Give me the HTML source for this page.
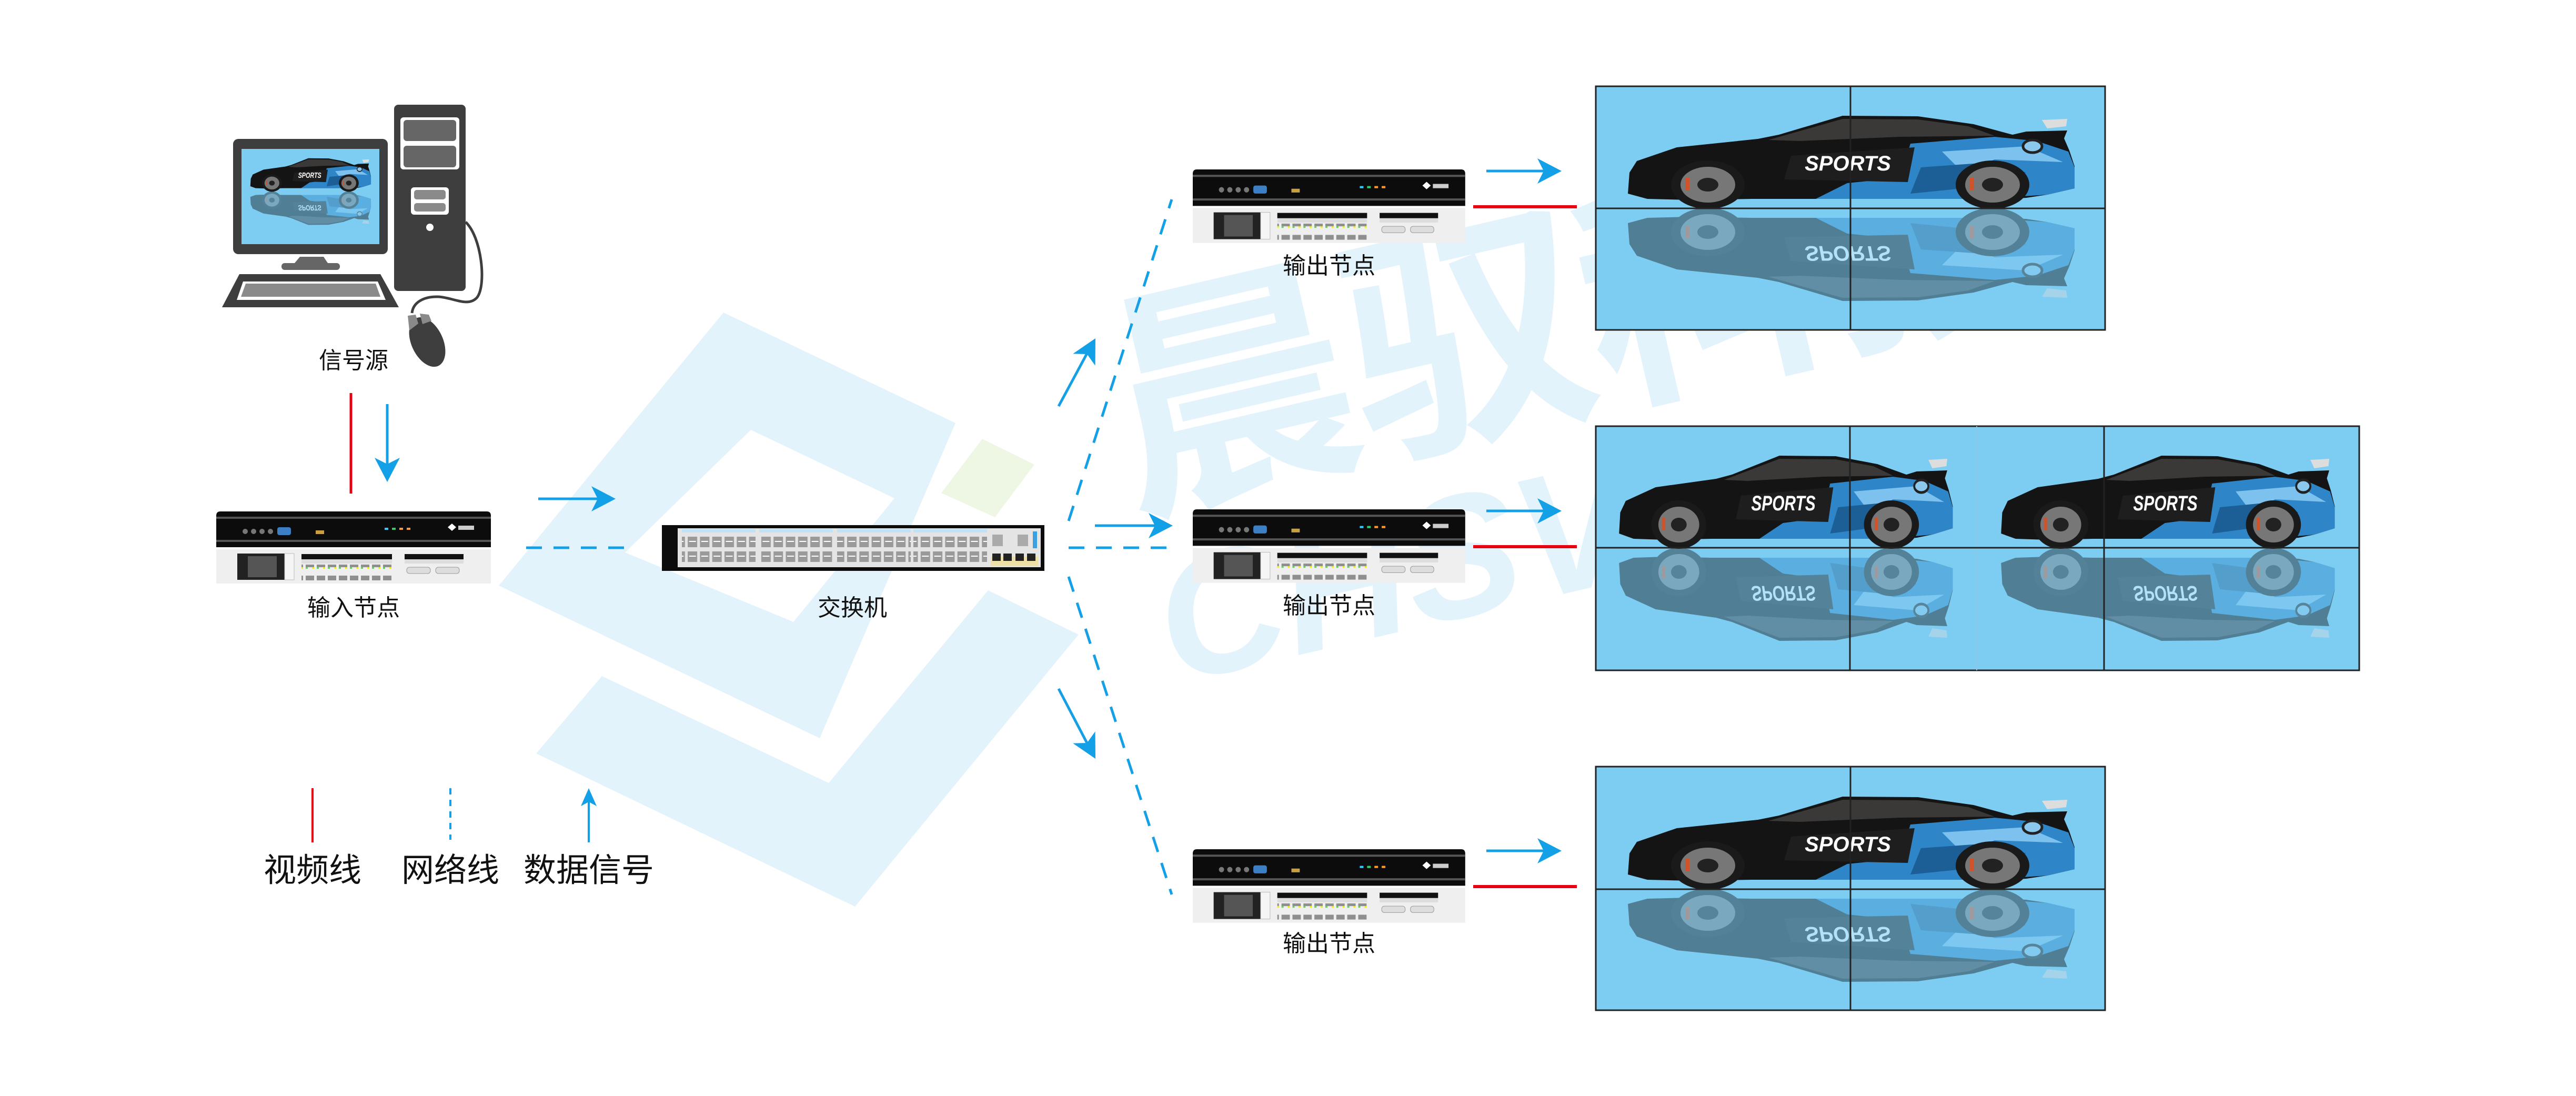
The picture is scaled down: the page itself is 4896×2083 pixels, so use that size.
<!DOCTYPE html>
<html><head><meta charset="utf-8">
<style>
html,body{margin:0;padding:0;background:#fff;}
svg{display:block;}
text{font-family:"Liberation Sans","Noto Sans CJK SC",sans-serif;}
</style></head>
<body>
<svg width="4896" height="2083" viewBox="0 0 4896 2083" xmlns="http://www.w3.org/2000/svg">
<defs>
  <pattern id="ports" x="0" y="0" width="23.3" height="87" patternUnits="userSpaceOnUse">
    <rect x="2.5" y="22" width="18" height="20" fill="#9a9a9a"/>
    <rect x="2.5" y="50" width="18" height="20" fill="#9a9a9a"/>
    <rect x="5" y="30" width="13" height="2" fill="#fff"/>
    <rect x="5" y="58" width="13" height="2" fill="#fff"/>
  </pattern>
  <pattern id="eth" x="0" y="0" width="21" height="30" patternUnits="userSpaceOnUse">
    <rect x="2" y="2" width="16" height="14" fill="#8f8f8f"/>
    <rect x="2" y="16" width="4" height="3" fill="#6c6"/>
    <rect x="14" y="16" width="4" height="3" fill="#ee3"/>
  </pattern>
  <path id="ahR" d="M-46,-24 L0,0 L-46,24 L-34,0 Z" fill="#13a0e6"/>

  <g id="carbody">
    <path d="M3,150 L6,110 L20,88 L96,62 L250,46 L290,38 L411,2 L554,3 L660,18 L734,38 L760,32 L838,30 L832,45 L842,68 L852,98 L852,140 L800,152 L760,158 L720,160 L238,160 L120,162 L40,160 Z" fill="#141414"/>
    <path d="M540,55 L700,42 L780,50 L840,70 L852,100 L852,140 L800,152 L680,160 L360,160 L420,130 L520,120 Z" fill="#2e86c8"/>
    <path d="M600,70 L760,60 L830,90 L700,85 L640,110 Z" fill="#7dc2ee"/>
    <path d="M560,100 L700,90 L760,110 L640,140 L540,150 Z" fill="#1c5e96"/>
    <path d="M270,48 L411,8 L554,9 L650,22 L700,40 L520,42 L330,50 Z" fill="#3b3838"/>
    <path d="M313,78 L548,62 L535,128 L300,123 Z" fill="#1e1e1e"/>
    <text x="421" y="106" font-size="40" font-weight="bold" font-style="italic" fill="#fff" text-anchor="middle">SPORTS</text>
    <path d="M790,10 L838,8 L836,22 L800,26 Z" fill="#ddd"/>
    <ellipse cx="772" cy="60" rx="18" ry="12" fill="#8cc8ee" stroke="#222" stroke-width="5"/>
    <ellipse cx="155" cy="133" rx="70" ry="46" fill="#1a1a1a"/>
    <ellipse cx="155" cy="133" rx="52" ry="34" fill="#777"/>
    <ellipse cx="155" cy="133" rx="20" ry="13" fill="#222"/>
    <ellipse cx="696" cy="133" rx="70" ry="46" fill="#1a1a1a"/>
    <ellipse cx="696" cy="133" rx="52" ry="34" fill="#777"/>
    <ellipse cx="696" cy="133" rx="20" ry="13" fill="#222"/>
    <rect x="112" y="120" width="8" height="24" fill="#d0532a"/>
    <rect x="653" y="120" width="8" height="24" fill="#d0532a"/>
  </g>
  <g id="car">
    <use href="#carbody"/>
    <g opacity="0.42" transform="translate(0,356) scale(1,-1)"><use href="#carbody"/></g>
  </g>

  <g id="dev">
    <path d="M0,8 Q0,0 8,0 L514,0 Q522,0 522,8 L522,68 L0,68 Z" fill="#0c0c0c"/>
    <rect x="0" y="10" width="522" height="4" fill="#555"/>
    <rect x="0" y="54" width="522" height="4" fill="#555"/>
    <circle cx="55" cy="38" r="5" fill="#777"/><circle cx="71" cy="38" r="5" fill="#777"/><circle cx="87" cy="38" r="5" fill="#777"/><circle cx="103" cy="38" r="5" fill="#777"/>
    <rect x="116" y="30" width="26" height="15" rx="4" fill="#3d7fc4"/>
    <rect x="189" y="36" width="16" height="7" fill="#c8a040"/>
    <rect x="320" y="31" width="7" height="4" fill="#3cf"/><rect x="334" y="31" width="7" height="4" fill="#3c6"/><rect x="348" y="31" width="7" height="4" fill="#f93"/><rect x="362" y="31" width="7" height="4" fill="#f93"/>
    <path d="M440,30 l8,-7 l8,7 l-8,7 z" fill="#fff"/><rect x="460" y="27" width="30" height="8" fill="#ccc"/>
    <rect x="0" y="72" width="522" height="65" fill="#efefef"/>
    <rect x="40" y="80" width="100" height="50" fill="#222"/>
    <rect x="60" y="85" width="55" height="40" fill="#555"/>
    <rect x="130" y="80" width="18" height="50" fill="#f5f5f5" stroke="#bbb"/>
    <rect x="162" y="81" width="172" height="10" fill="#111"/>
    <rect x="162" y="91" width="172" height="8" fill="#ddd"/>
    <rect x="162" y="101" width="172" height="30" fill="url(#eth)"/>
    <rect x="358" y="81" width="112" height="10" fill="#111"/>
    <rect x="358" y="91" width="112" height="8" fill="#ddd"/>
    <rect x="362" y="106" width="45" height="12" rx="5" fill="#ddd" stroke="#999"/>
    <rect x="417" y="106" width="45" height="12" rx="5" fill="#ddd" stroke="#999"/>
  </g>

  <g id="sw">
    <rect x="0" y="0" width="727" height="87" fill="#0c0c0c"/>
    <rect x="30" y="6" width="690" height="74" fill="#e4e4e4"/>
    <g fill="#bfe3f6"><rect x="38" y="8" width="140" height="6"/><rect x="185" y="8" width="140" height="6"/><rect x="333" y="8" width="140" height="6"/><rect x="478" y="8" width="140" height="6"/></g>
    <rect x="38" y="0" width="140" height="87" fill="url(#ports)"/>
    <rect x="185" y="0" width="140" height="87" fill="url(#ports)"/>
    <rect x="333" y="0" width="140" height="87" fill="url(#ports)"/>
    <rect x="478" y="0" width="140" height="87" fill="url(#ports)"/>
    <rect x="628" y="18" width="20" height="22" fill="#aaa"/>
    <rect x="676" y="18" width="20" height="22" fill="#aaa"/>
    <rect x="705" y="12" width="8" height="32" fill="#3aa0e0"/>
    <rect x="625" y="60" width="90" height="18" fill="#ecdfa8"/>
    <g fill="#222"><rect x="628" y="54" width="16" height="14"/><rect x="649" y="54" width="16" height="14"/><rect x="672" y="54" width="16" height="14"/><rect x="694" y="54" width="16" height="14"/></g>
  </g>
</defs>

<g fill="#e3f3fc">
  <path fill-rule="evenodd" d="M1375,594 L1816,804 L1558,1403 L948,1113 Z M1427,817 L1700,947 L1508,1182 L1188,1050 Z"/>
  <path d="M1144,1285 L1575,1488 L1878,1122 L2050,1206 L1625,1723 L1019,1432 Z"/>
</g>
<path d="M1867,834 L1966,883 L1891,983 L1789,937 Z" fill="#eef7e4"/>
<g fill="#e3f3fc" font-weight="bold">
  <text x="2150" y="960" font-size="470" transform="rotate(-13 2150 960)" style="letter-spacing:-10px">晨驭科技</text>
  <text x="2230" y="1300" font-size="330" font-style="italic" transform="rotate(-13 2230 1300)">CHSVC</text>
</g>

<g>
  <rect x="443" y="264" width="294" height="219" rx="10" fill="#3e3e3e"/>
  <rect x="459" y="283" width="262" height="181" fill="#7dcdf3"/>
  <g transform="translate(475,300) scale(0.27,0.36)"><use href="#car"/></g>
  <path d="M560,500 L570,488 L615,488 L623,500 Z" fill="#666"/>
  <rect x="535" y="500" width="111" height="13" rx="6" fill="#666"/>
  <path d="M422,584 L455,521 L723,521 L758,584 Z" fill="#3e3e3e"/>
  <path d="M450,570 L462,535 L718,535 L733,570 Z" fill="#fff"/>
  <path d="M458,564 L467,539 L714,539 L723,564 Z" fill="#8a8a8a"/>
  <rect x="749" y="199" width="136" height="354" rx="8" fill="#3e3e3e"/>
  <rect x="761" y="223" width="112" height="99" rx="6" fill="#fff"/>
  <rect x="767" y="228" width="100" height="40" rx="6" fill="#666"/>
  <rect x="767" y="277" width="100" height="41" rx="6" fill="#666"/>
  <rect x="781" y="356" width="72" height="52" rx="6" fill="#fff"/>
  <rect x="787" y="361" width="60" height="18" rx="5" fill="#8a8a8a"/>
  <rect x="787" y="386" width="60" height="16" rx="5" fill="#8a8a8a"/>
  <circle cx="817" cy="432" r="7" fill="#fff"/>
  <path d="M885,422 C915,450 925,540 907,565 C890,585 860,565 833,564 C805,563 785,575 783,595" fill="none" stroke="#3e3e3e" stroke-width="5"/>
  <ellipse cx="812" cy="650" rx="30" ry="50" transform="rotate(-25 812 650)" fill="#3e3e3e"/>
  <path d="M775,600 L790,598 L795,615 L778,628 Z" fill="#8a8a8a"/>
  <path d="M798,596 L815,598 L820,610 L803,616 Z" fill="#8a8a8a"/>
</g>
<text x="672" y="700" font-size="44" text-anchor="middle" fill="#111">信号源</text>

<line x1="667" y1="747" x2="667" y2="938" stroke="#e60012" stroke-width="5"/>
<line x1="736" y1="768" x2="736" y2="890" stroke="#13a0e6" stroke-width="5"/>
<use href="#ahR" transform="translate(736,916) rotate(90)"/>

<g transform="translate(411,972)"><use href="#dev"/></g>
<text x="672" y="1170" font-size="44" text-anchor="middle" fill="#111">输入节点</text>

<line x1="1023" y1="948" x2="1140" y2="948" stroke="#13a0e6" stroke-width="5"/>
<use href="#ahR" transform="translate(1170,948)"/>
<line x1="1000" y1="1041" x2="1195" y2="1041" stroke="#13a0e6" stroke-width="5" stroke-dasharray="30,22"/>

<g transform="translate(1258,998)"><use href="#sw"/></g>
<text x="1620" y="1170" font-size="44" text-anchor="middle" fill="#111">交换机</text>

<line x1="2031" y1="1041" x2="2227" y2="1041" stroke="#13a0e6" stroke-width="5" stroke-dasharray="30,22"/>
<line x1="2081" y1="999" x2="2200" y2="999" stroke="#13a0e6" stroke-width="5"/>
<use href="#ahR" transform="translate(2229,999)"/>
<line x1="2031" y1="990" x2="2227" y2="379" stroke="#13a0e6" stroke-width="5" stroke-dasharray="30,22"/>
<line x1="2031" y1="1096" x2="2227" y2="1700" stroke="#13a0e6" stroke-width="5" stroke-dasharray="30,22"/>
<line x1="2012" y1="772" x2="2068" y2="668" stroke="#13a0e6" stroke-width="5"/>
<use href="#ahR" transform="translate(2082,643) rotate(-62)"/>
<line x1="2012" y1="1309" x2="2068" y2="1416" stroke="#13a0e6" stroke-width="5"/>
<use href="#ahR" transform="translate(2082,1442) rotate(62)"/>

<g transform="translate(2267,322) scale(0.992,1.02)"><use href="#dev"/></g>
<g transform="translate(2267,968) scale(0.992,1.02)"><use href="#dev"/></g>
<g transform="translate(2267,1614) scale(0.992,1.02)"><use href="#dev"/></g>
<text x="2526" y="520" font-size="44" text-anchor="middle" fill="#111">输出节点</text>
<text x="2526" y="1166" font-size="44" text-anchor="middle" fill="#111">输出节点</text>
<text x="2526" y="1808" font-size="44" text-anchor="middle" fill="#111">输出节点</text>

<g stroke="#13a0e6" stroke-width="5">
  <line x1="2825" y1="325" x2="2940" y2="325"/>
  <line x1="2825" y1="971" x2="2940" y2="971"/>
  <line x1="2825" y1="1617" x2="2940" y2="1617"/>
</g>
<use href="#ahR" transform="translate(2968,325)"/>
<use href="#ahR" transform="translate(2968,971)"/>
<use href="#ahR" transform="translate(2968,1617)"/>
<g stroke="#e60012" stroke-width="6">
  <line x1="2800" y1="393" x2="2997" y2="393"/>
  <line x1="2800" y1="1039" x2="2997" y2="1039"/>
  <line x1="2800" y1="1685" x2="2997" y2="1685"/>
</g>

<rect x="3033" y="164" width="968" height="463" fill="#7dcdf3" stroke="#222" stroke-width="3"/>
<g transform="translate(3091,218)"><use href="#car"/></g>
<line x1="3517" y1="164" x2="3517" y2="627" stroke="#222" stroke-width="3"/>
<line x1="3033" y1="396" x2="4001" y2="396" stroke="#222" stroke-width="3"/>

<rect x="3033" y="810" width="1451" height="464" fill="#7dcdf3" stroke="#222" stroke-width="3"/>
<g transform="translate(3075,864) scale(0.747,1)"><use href="#car"/></g>
<g transform="translate(3801,864) scale(0.747,1)"><use href="#car"/></g>
<line x1="3757" y1="810" x2="3757" y2="1274" stroke="#8ec6e6" stroke-width="2"/>
<line x1="3516" y1="810" x2="3516" y2="1274" stroke="#222" stroke-width="3"/>
<line x1="3999" y1="810" x2="3999" y2="1274" stroke="#222" stroke-width="3"/>
<line x1="3033" y1="1041" x2="4484" y2="1041" stroke="#222" stroke-width="3"/>

<rect x="3033" y="1457" width="968" height="463" fill="#7dcdf3" stroke="#222" stroke-width="3"/>
<g transform="translate(3091,1512)"><use href="#car"/></g>
<line x1="3517" y1="1457" x2="3517" y2="1920" stroke="#222" stroke-width="3"/>
<line x1="3033" y1="1690" x2="4001" y2="1690" stroke="#222" stroke-width="3"/>

<line x1="594" y1="1498" x2="594" y2="1601" stroke="#e60012" stroke-width="4"/>
<line x1="856" y1="1498" x2="856" y2="1596" stroke="#13a0e6" stroke-width="4" stroke-dasharray="12,10"/>
<line x1="1119" y1="1520" x2="1119" y2="1601" stroke="#13a0e6" stroke-width="4"/>
<path d="M1104,1532 L1119,1498 L1134,1532 L1119,1524 Z" fill="#13a0e6"/>
<text x="594" y="1675" font-size="62" text-anchor="middle" fill="#111">视频线</text>
<text x="856" y="1675" font-size="62" text-anchor="middle" fill="#111">网络线</text>
<text x="1119" y="1675" font-size="62" text-anchor="middle" fill="#111">数据信号</text>
</svg>
</body></html>
